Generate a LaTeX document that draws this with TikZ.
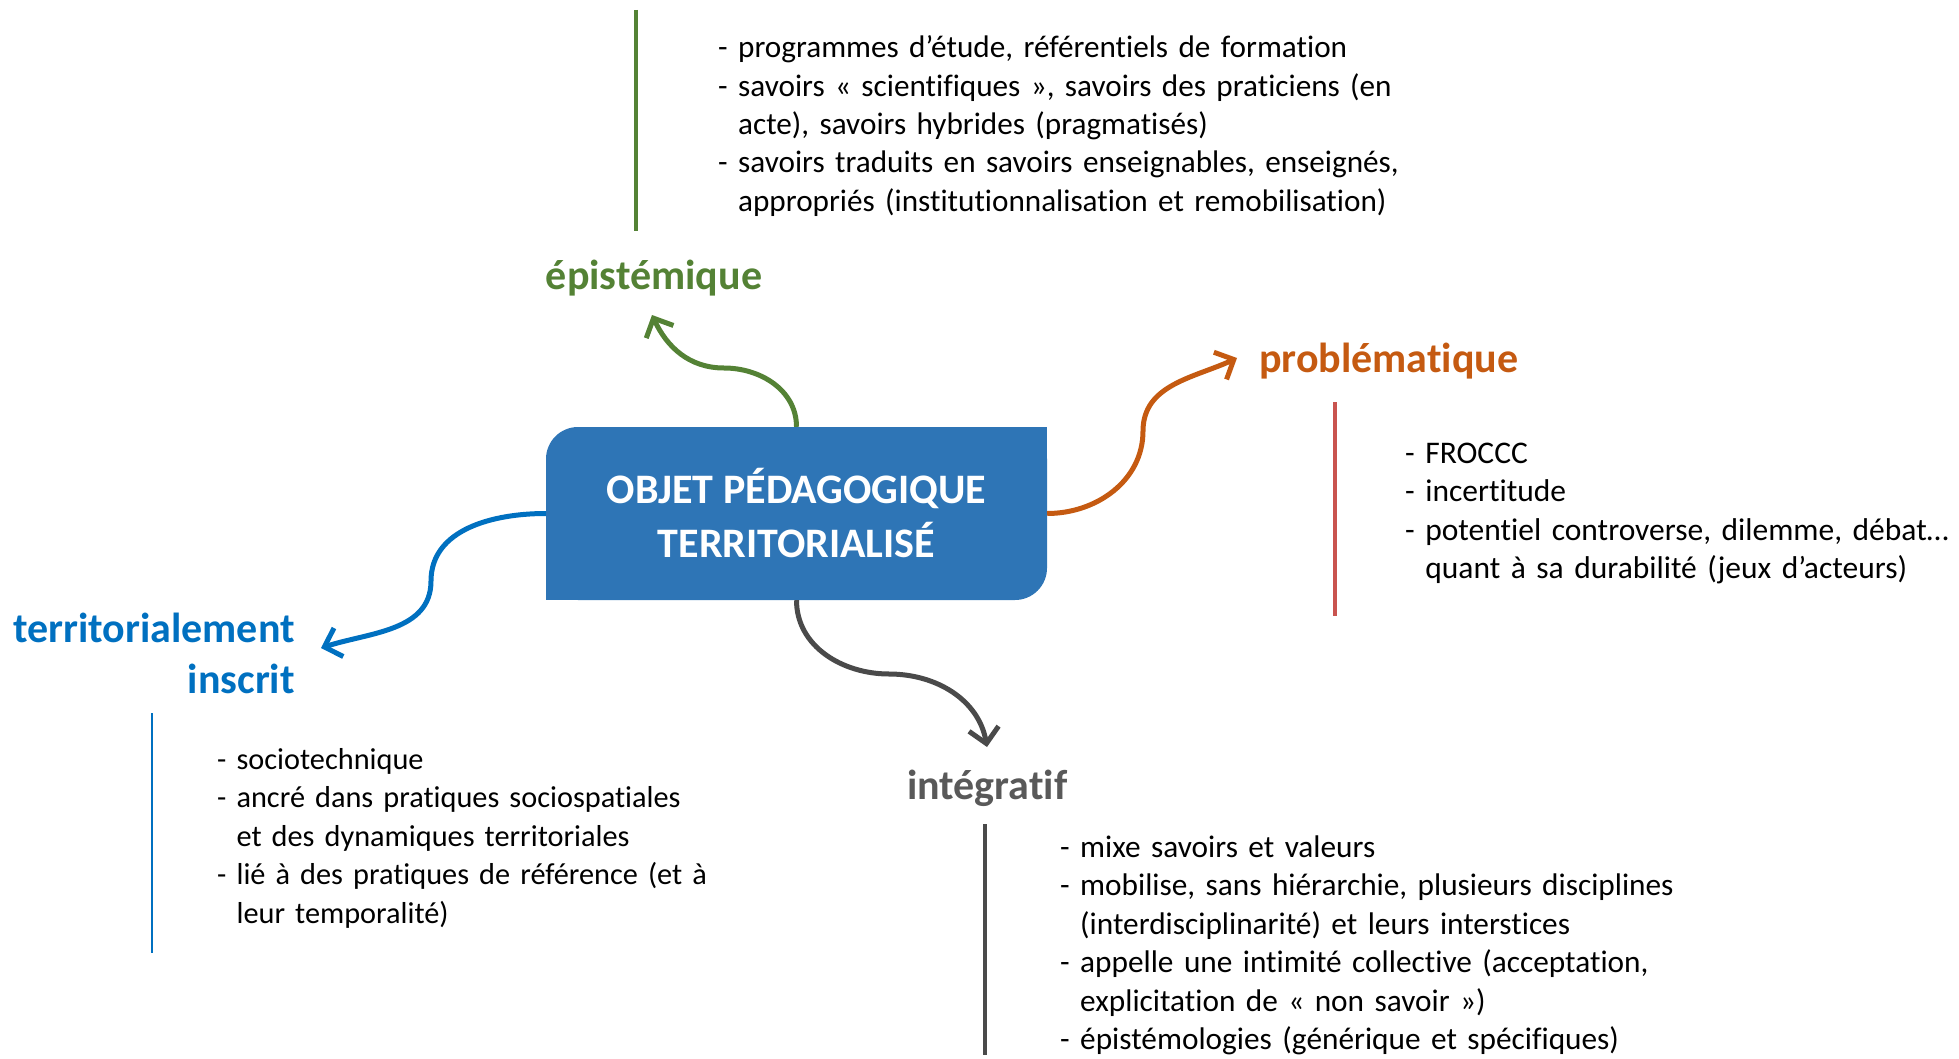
\documentclass[tikz,border=0pt]{standalone}
\usepackage{fontspec}
\setmainfont[Ligatures=NoCommon]{Carlito}
\usetikzlibrary{arrows.meta}
\definecolor{boxblue}{HTML}{2E75B6}
\definecolor{cgreen}{HTML}{548235}
\definecolor{corange}{HTML}{C55A11}
\definecolor{cblue}{HTML}{0070C0}
\definecolor{cgreytext}{HTML}{595959}
\definecolor{cgrey}{HTML}{4A4A4A}
\definecolor{cred}{HTML}{C9544F}
\newcommand{\ind}{\hphantom{- }}
\begin{document}
\begin{tikzpicture}[x=1pt,y=1pt,
  body/.style={font=\fontsize{31.5}{38.5}\selectfont, text width=800pt, align=left, inner sep=0pt, anchor=base west},
  head/.style={font=\bfseries\fontsize{42}{51}\selectfont, inner sep=0pt},
  conn/.style={line width=5pt, -{Straight Barb[length=15pt,width=30pt,line width=5pt]}},
  bar/.style={line width=4pt}]
\useasboundingbox (0,0) rectangle (1959,-1059);
% central box
\node[fill=boxblue, rounded corners=32pt, minimum width=501pt, minimum height=173pt, inner sep=0pt,
      text=white, font=\bfseries\fontsize{42}{54}\selectfont, align=center] (box) at (796.5,-513.5)
      {OBJET PÉDAGOGIQUE\\TERRITORIALISÉ};
\fill[boxblue] (box.north east) rectangle ++(-34,-34);
\fill[boxblue] (box.south west) rectangle ++(34,34);
% coordinates
\coordinate (gmid) at (724,-368);
\coordinate (gtip) at (652,-315);
\coordinate (omid) at (1143,-431);
\coordinate (otip) at (1237,-358);
\coordinate (bmid) at (431,-581);
\coordinate (btip) at (321,-648);
\coordinate (kmid) at (889,-674);
\coordinate (ktip) at (987,-747);
% connectors
\draw[conn, cgreen] (box.north) to[out=90,in=0] (gmid) to[out=180,in=-65] (gtip);
\draw[conn, corange] (box.east) to[out=0,in=-90] (omid) to[out=90,in=-155] (otip);
\draw[conn, cblue] (box.west) to[out=180,in=90] (bmid) to[out=-90,in=18] (btip);
\draw[conn, cgrey] (box.south) to[out=-90,in=180] (kmid) to[out=0,in=100] (ktip);
% headings
\node[head, text=cgreen, anchor=base] (hepi) at (654,-290) {épistémique};
\node[head, text=corange, anchor=base west] (hpro) at (1259,-372) {problématique};
\node[head, text=cblue, anchor=base east, align=right] (hter) at (295,-693) {territorialement\\inscrit};
\node[head, text=cgreytext, anchor=base west] (hint) at (907,-799) {intégratif};
% bars
\coordinate (ga) at (636,-10); \coordinate (gb) at (636,-231);
\coordinate (ra) at (1335,-402); \coordinate (rb) at (1335,-616);
\coordinate (ba) at (152,-713); \coordinate (bb) at (152,-953);
\coordinate (ka) at (985,-824); \coordinate (kb) at (985,-1055);
\draw[bar, cgreen] (ga) -- (gb);
\draw[bar, cred] (ra) -- (rb);
\draw[line width=2pt, cblue] (ba) -- (bb);
\draw[bar, cgrey] (ka) -- (kb);
% texts
\node[body, font=\fontsize{31.2}{38.3}\selectfont] (tepi) at (718,-58) {- programmes d’étude, référentiels de formation\\
- savoirs « scientifiques », savoirs des praticiens (en\\
\ind acte), savoirs hybrides (pragmatisés)\\
- savoirs traduits en savoirs enseignables, enseignés,\\
\ind appropriés (institutionnalisation et remobilisation)};
\node[body] (tpro) at (1405,-463) {- FROCCC\\
- incertitude\\
- potentiel controverse, dilemme, débat…\\
\ind quant à sa durabilité (jeux d’acteurs)};
\node[body, font=\fontsize{30.3}{38.5}\selectfont] (tter) at (217,-769) {- sociotechnique\\
- ancré dans pratiques sociospatiales\\
\ind et des dynamiques territoriales\\
- lié à des pratiques de référence (et à\\
\ind leur temporalité)};
\node[body, font=\fontsize{31.3}{38.5}\selectfont] (tint) at (1060,-857) {- mixe savoirs et valeurs\\
- mobilise, sans hiérarchie, plusieurs disciplines\\
\ind (interdisciplinarité) et leurs interstices\\
- appelle une intimité collective (acceptation,\\
\ind explicitation de « non savoir »)\\
- épistémologies (générique et spécifiques)};
\end{tikzpicture}
\end{document}
